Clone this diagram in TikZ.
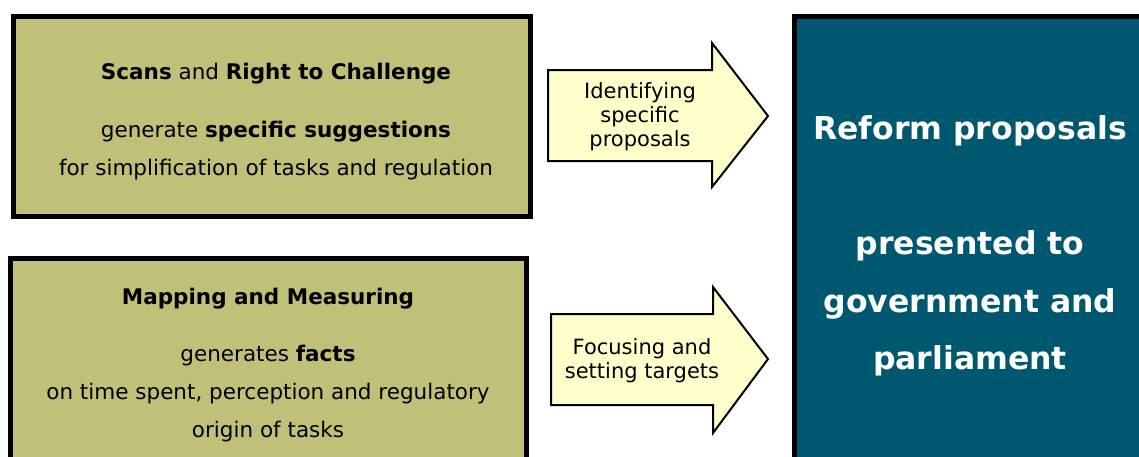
\documentclass[tikz,border=0pt]{standalone}
\usepackage{fontspec}
\setmainfont{DejaVu Sans}
\definecolor{srcolive}{RGB}{192,192,120}
\definecolor{arrowcream}{RGB}{255,255,204}
\definecolor{reformblue}{RGB}{0,88,112}
\tikzset{
  srcbox/.style={draw=black, line width=5pt, fill=srcolive, inner sep=0pt},
  resultbox/.style={draw=black, line width=5pt, fill=reformblue, inner sep=0pt},
  flowarrow/.style={draw=black, line width=2pt, fill=arrowcream, line join=miter},
  boxtext/.style={align=center, font=\fontsize{21.5}{38}\selectfont, inner sep=0pt},
  arrowtext/.style={align=center, font=\fontsize{21}{24}\selectfont, inner sep=0pt},
  resulttext/.style={align=center, text=white, font=\bfseries\fontsize{31.5}{57.5}\selectfont, inner sep=0pt}
}
\begin{document}
\begin{tikzpicture}[x=1pt,y=-1pt]
\useasboundingbox (0,0) rectangle (1139,456);
\clip (0,0) rectangle (1139,456);
\fill[white] (0,0) rectangle (1139,456);
% source boxes
\node[srcbox, minimum width=517pt, minimum height=200pt] (b1) at (272,116.5) {};
\node[srcbox, minimum width=516pt, minimum height=222pt] (b2) at (268.5,369.5) {};
% result box
\node[resultbox, minimum width=366pt, minimum height=464pt] (r) at (977.25,248.25) {};
% arrows
\draw[flowarrow] (548,70) -- (712,70) -- (712,43) -- (768,116) -- (712,187) -- (712,161) -- (548,161) -- cycle;
\draw[flowarrow] (551,314) -- (713,314) -- (713,287) -- (768,359) -- (713,433) -- (713,405) -- (551,405) -- cycle;
% texts
\node[boxtext] (t1) at (276,122) {\textbf{Scans} and \textbf{Right to Challenge}\\[20pt] generate \textbf{specific suggestions}\\ for simplification of tasks and regulation};
\node[boxtext] (t2) at (268,365) {\textbf{Mapping and Measuring}\\[19pt] generates \textbf{facts}\\ on time spent, perception and regulatory\\ origin of tasks};
\node[arrowtext] (a1) at (640,117) {Identifying\\ specific\\ proposals};
\node[arrowtext] (a2) at (642,361) {Focusing and\\ setting targets};
\node[resulttext] (rt) at (970,246) {Reform proposals\\[57.5pt] presented to\\ government and\\ parliament};
\end{tikzpicture}
\end{document}
